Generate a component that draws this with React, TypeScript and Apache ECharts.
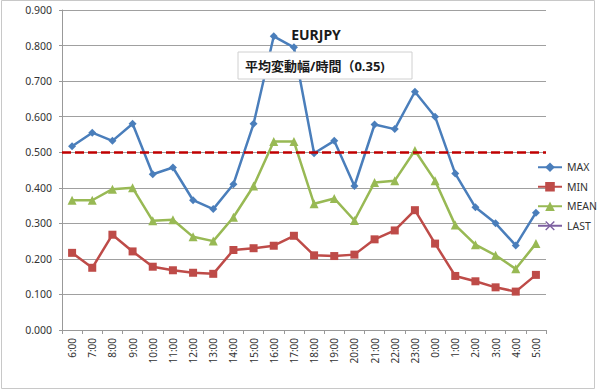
import React, { useEffect, useRef } from "react";
import * as echarts from "echarts";

const categories = ["6:00","7:00","8:00","9:00","10:00","11:00","12:00","13:00","14:00","15:00","16:00","17:00","18:00","19:00","20:00","21:00","22:00","23:00","0:00","1:00","2:00","3:00","4:00","5:00"];
const maxValues = [0.517,0.555,0.532,0.580,0.438,0.457,0.365,0.340,0.410,0.580,0.826,0.795,0.497,0.532,0.405,0.578,0.565,0.670,0.600,0.440,0.345,0.300,0.238,0.330];
const minValues = [0.217,0.175,0.268,0.221,0.178,0.168,0.161,0.158,0.225,0.230,0.237,0.265,0.210,0.208,0.212,0.255,0.280,0.337,0.243,0.152,0.137,0.120,0.108,0.155];
const meanValues = [0.365,0.365,0.396,0.400,0.307,0.310,0.262,0.250,0.317,0.405,0.530,0.530,0.355,0.370,0.308,0.415,0.420,0.505,0.420,0.295,0.240,0.210,0.172,0.243];
const lastValues: (number | null)[] = [];
const thresholdValue = 0.5;
const titleText = "EURJPY";
const noteText = "平均変動幅/時間（0.35)";

const FONT = "'Noto Sans', 'Noto Sans CJK JP', sans-serif";
const X_SYMBOL = "path://M1,0L5,4L9,0L10,1L6,5L10,9L9,10L5,6L1,10L0,9L4,5L0,1Z";

export default function App() {
  const ref = useRef<HTMLDivElement>(null);
  useEffect(() => {
    document.body.style.margin = "0";
    const chart = echarts.init(ref.current!, null, { renderer: "svg" });
    const lineSeries = (name: string, data: (number | null)[], color: string, symbol: string, size: number) => ({
      name,
      type: "line",
      data,
      symbol,
      symbolSize: size,
      showAllSymbol: true,
      itemStyle: { color },
      lineStyle: { color, width: 2.5 },
    });
    chart.setOption({
      animation: false,
      textStyle: { fontFamily: FONT },
      title: {
        text: titleText,
        left: 311,
        top: 22,
        textAlign: "center",
        textStyle: { fontSize: 14, fontWeight: "bold", color: "#1a1a1a", fontFamily: FONT },
      },
      legend: {
        orient: "vertical",
        left: 532,
        top: 157,
        itemGap: 9,
        itemWidth: 24,
        itemHeight: 12,
        textStyle: { fontSize: 10.5, color: "#333", fontFamily: FONT },
        data: ["MAX", "MIN", "MEAN", "LAST"],
      },
      grid: { left: 62, right: 54, top: 10, bottom: 61, containLabel: false },
      xAxis: {
        type: "category",
        data: categories,
        boundaryGap: true,
        axisLine: { lineStyle: { color: "#999", width: 1 } },
        axisTick: { show: true, length: 4, interval: 0, lineStyle: { color: "#999" } },
        axisLabel: { rotate: 90, interval: 0, fontSize: 10, color: "#333", margin: 8 },
      },
      yAxis: {
        type: "value",
        min: 0,
        max: 0.9,
        interval: 0.1,
        axisLine: { show: true, lineStyle: { color: "#999", width: 1 } },
        axisTick: { show: true, length: 3, lineStyle: { color: "#999" } },
        axisLabel: { formatter: (v: number) => v.toFixed(3), fontSize: 10.5, color: "#333", margin: 10 },
        splitLine: { lineStyle: { color: "#a0a0a0", width: 1 } },
      },
      series: [
        {
          ...lineSeries("MAX", maxValues, "#4A7EBB", "diamond", 8),
          markLine: {
            silent: true,
            symbol: "none",
            label: { show: false },
            lineStyle: { color: "#C00000", type: [9, 4], width: 2.5 },
            data: [{ yAxis: thresholdValue }],
          },
        },
        lineSeries("MIN", minValues, "#BE4B48", "rect", 8),
        lineSeries("MEAN", meanValues, "#98B954", "triangle", 9),
        lineSeries("LAST", lastValues, "#7D60A0", X_SYMBOL, 8),
      ],
      graphic: [
        {
          type: "rect",
          shape: { x: 1.5, y: 0.5, width: 593, height: 388 },
          style: { fill: "none", stroke: "#c8c8c8", lineWidth: 1 },
          silent: true,
          z: -1,
        },
        {
          type: "rect",
          shape: { x: 238, y: 52, width: 174, height: 27 },
          style: { fill: "#ffffff", stroke: "#d0d0d0", lineWidth: 1 },
          z: 10,
        },
        {
          type: "text",
          x: 245,
          y: 66,
          z: 11,
          style: {
            text: noteText,
            fontSize: 13,
            fontWeight: "bold",
            fill: "#1a1a1a",
            fontFamily: FONT,
            verticalAlign: "middle",
          },
        },
      ],
    });
    return () => chart.dispose();
  }, []);
  return <div ref={ref} style={{ width: 600, height: 391 }} />;
}
